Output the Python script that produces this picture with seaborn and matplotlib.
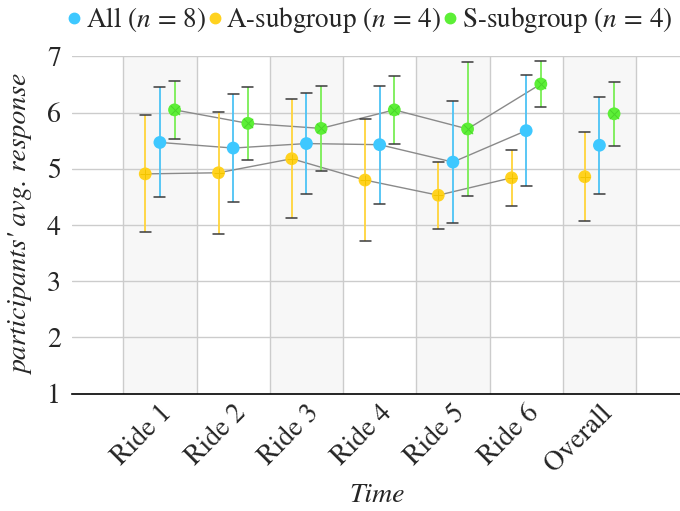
import numpy as np
import pandas as pd
import matplotlib
matplotlib.use("Agg")
import matplotlib.pyplot as plt
import seaborn as sns
from matplotlib.lines import Line2D

categories = ["Ride 1", "Ride 2", "Ride 3", "Ride 4", "Ride 5", "Ride 6", "Overall"]
all_mean = [5.47, 5.37, 5.45, 5.43, 5.12, 5.68, 5.42]
all_err = [0.98, 0.96, 0.90, 1.05, 1.08, 0.99, 0.86]
a_mean = [4.91, 4.93, 5.18, 4.80, 4.53, 4.84, 4.86]
a_err = [1.04, 1.09, 1.06, 1.09, 0.60, 0.50, 0.79]
s_mean = [6.05, 5.81, 5.72, 6.05, 5.71, 6.51, 5.98]
s_err = [0.51, 0.65, 0.76, 0.61, 1.20, 0.41, 0.57]

series_names = ["All ($n\\,=\\,8$)", "A-subgroup ($n\\,=\\,4$)", "S-subgroup ($n\\,=\\,4$)"]
colors = ["#3ec8ff", "#ffd21f", "#5cef36"]
bar_colors = ["#4cc3f5", "#ffd43a", "#79ee55"]
offsets = [0.0, -0.2, 0.2]

sns.set_theme(style="white")
plt.rcParams["font.family"] = ["STIXGeneral", "DejaVu Serif"]
plt.rcParams["mathtext.fontset"] = "stix"

fig = plt.figure(figsize=(6.8, 5.11), dpi=100)
ax = fig.add_axes([72 / 680, 1 - 393.5 / 511, 1 - 72 / 680, (393.5 - 56.5) / 511])

n = len(categories)
idx = np.arange(n)
ax.set_xlim(-1.2, 7.1)
ax.set_ylim(1, 7)

# shaded bands
for i in range(0, n, 2):
    ax.axvspan(i - 0.5, i + 0.5, color="#f7f7f7", zorder=0, lw=0)
# vertical grid at category boundaries
for b in np.arange(-0.5, n + 0.5, 1.0):
    ax.axvline(b, color="#cccccc", lw=1.0, zorder=0.5)
for yv in range(2, 8):
    ax.axhline(yv, color="#cccccc", lw=1.0, zorder=0.5)

rows = []
for name, means, errs, off in zip(series_names, [all_mean, a_mean, s_mean],
                                  [all_err, a_err, s_err], offsets):
    for i, c in enumerate(categories):
        rows.append(dict(series=name, cat=c, x=i + off, y=means[i], e=errs[i],
                         ride=c != "Overall"))
df = pd.DataFrame(rows)

# connecting lines (rides only)
for name in series_names:
    d = df[(df.series == name) & df.ride]
    sns.lineplot(data=d, x="x", y="y", ax=ax, color="#8a8a8a", lw=1.0,
                 zorder=2, legend=False, estimator=None, sort=True)

# error bars
for name, bc in zip(series_names, bar_colors):
    d = df[df.series == name]
    ax.errorbar(d.x, d.y, yerr=d.e, fmt="none", ecolor=bc, elinewidth=1.3,
                capsize=0, zorder=3)
    for _, r in d.iterrows():
        ax.plot([r.x - 0.075, r.x + 0.075], [r.y + r.e] * 2, color="#3a3a3a", lw=1.1, zorder=3)
        ax.plot([r.x - 0.075, r.x + 0.075], [r.y - r.e] * 2, color="#3a3a3a", lw=1.1, zorder=3)

sns.scatterplot(data=df, x="x", y="y", hue="series", palette=dict(zip(series_names, colors)),
                s=85, edgecolor="none", ax=ax, zorder=4, legend=False)
# inner cross marks
inner = {series_names[1]: ("+", "#f2c400"), series_names[2]: ("x", "#4ad52a")}
for name, (mk, col) in inner.items():
    d = df[df.series == name]
    ax.scatter(d.x, d.y, marker=mk, s=45, color=col, lw=0.7, zorder=5)

ax.set_xticks(idx)
ax.set_xticklabels(categories, rotation=45, ha="right", rotation_mode="anchor",
                   fontsize=20)
ax.set_yticks(range(1, 8))
ax.set_yticklabels([str(v) for v in range(1, 8)], fontsize=20)
ax.tick_params(axis="both", length=0, pad=8)
ax.tick_params(axis="x", pad=5)
ax.set_xlabel("Time", fontsize=20, style="italic")
ax.xaxis.set_label_coords((377 - 72) / 608, (393.5 - 483) / 337)
ax.set_ylabel("participants' avg. response", fontsize=20, style="italic", labelpad=9)
for s in ["top", "right", "left"]:
    ax.spines[s].set_visible(False)
ax.spines["bottom"].set_color("black")
ax.spines["bottom"].set_linewidth(1.2)

handles = [Line2D([], [], marker="o", ls="none", color=c, markersize=7.5) for c in colors]
fig.legend(handles, series_names, loc="upper right", bbox_to_anchor=(678 / 680, 1.0),
           ncol=3, frameon=False, fontsize=19.5, handletextpad=0.2, columnspacing=0.1,
           handlelength=0.45, borderaxespad=0, borderpad=0.2)

fig.savefig("out.png", dpi=100)
